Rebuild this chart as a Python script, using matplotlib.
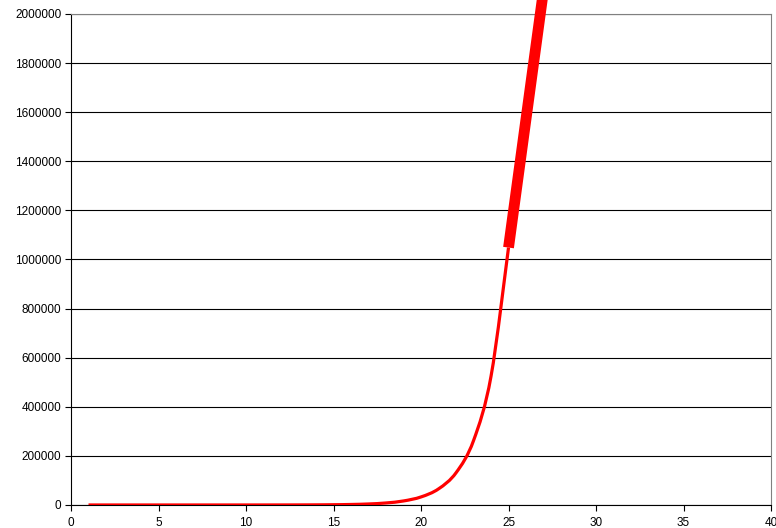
import matplotlib
matplotlib.use("Agg")
import matplotlib.pyplot as plt
from matplotlib.path import Path
from matplotlib.patches import PathPatch
from matplotlib.ticker import MultipleLocator, FuncFormatter

plt.rcParams['font.family'] = ['Liberation Sans', 'DejaVu Sans']

# ---- data ----
days = list(range(1, 26))
counts = [0.0625, 0.125, 0.25, 0.5, 1, 2, 4, 8, 16, 32, 64, 128, 256, 512,
          1024, 2048, 4096, 8192, 16384, 32768, 65536, 131072, 262144,
          524288, 1048576]

# the thick extension beyond day 25
ext_days = [25, 27]
ext_counts = [1048576, 2097152]

y_ticks = [0, 200000, 400000, 600000, 800000, 1000000, 1200000, 1400000,
           1600000, 1800000, 2000000]
x_ticks = [0, 5, 10, 15, 20, 25, 30, 35, 40]


def smooth_path(xs, ys):
    # Catmull-Rom style smoothing drawn as cubic Bezier segments
    verts = [(xs[0], ys[0])]
    codes = [Path.MOVETO]
    n = len(xs)
    for i in range(n - 1):
        x0, y0 = (xs[i - 1], ys[i - 1]) if i > 0 else (xs[i], ys[i])
        x1, y1 = xs[i], ys[i]
        x2, y2 = xs[i + 1], ys[i + 1]
        x3, y3 = (xs[i + 2], ys[i + 2]) if i + 2 < n else (xs[i + 1], ys[i + 1])
        c1 = (x1 + (x2 - x0) / 6.0, y1 + (y2 - y0) / 6.0)
        c2 = (x2 - (x3 - x1) / 6.0, y2 - (y3 - y1) / 6.0)
        verts += [c1, c2, (x2, y2)]
        codes += [Path.CURVE4] * 3
    return Path(verts, codes)


fig = plt.figure(figsize=(7.76, 5.28), dpi=100)
ax = fig.add_axes([0.0915, 0.0436, 0.9021, 0.9299])

ax.add_patch(PathPatch(smooth_path(days, counts), facecolor='none',
                       edgecolor='#ff0000', lw=2.3, zorder=3))
ax.plot(ext_days, ext_counts, color='#ff0000', lw=7.8,
        solid_capstyle='butt', clip_on=False, zorder=4)

ax.set_xlim(0, 40)
ax.set_ylim(0, 2000000)
ax.set_xticks(x_ticks)
ax.set_yticks(y_ticks)
ax.yaxis.set_major_formatter(FuncFormatter(lambda v, p: '%d' % v))
ax.yaxis.grid(True, color='black', lw=0.8)
ax.set_axisbelow(True)

for s in ['top', 'right']:
    ax.spines[s].set_color('#808080')
    ax.spines[s].set_linewidth(0.8)
for s in ['left', 'bottom']:
    ax.spines[s].set_color('black')
    ax.spines[s].set_linewidth(0.8)

ax.tick_params(direction='out', length=4, width=0.8, labelsize=8.5,
               colors='black', pad=3)
ax.tick_params(axis='x', pad=5)

fig.savefig("out.png", dpi=100)
